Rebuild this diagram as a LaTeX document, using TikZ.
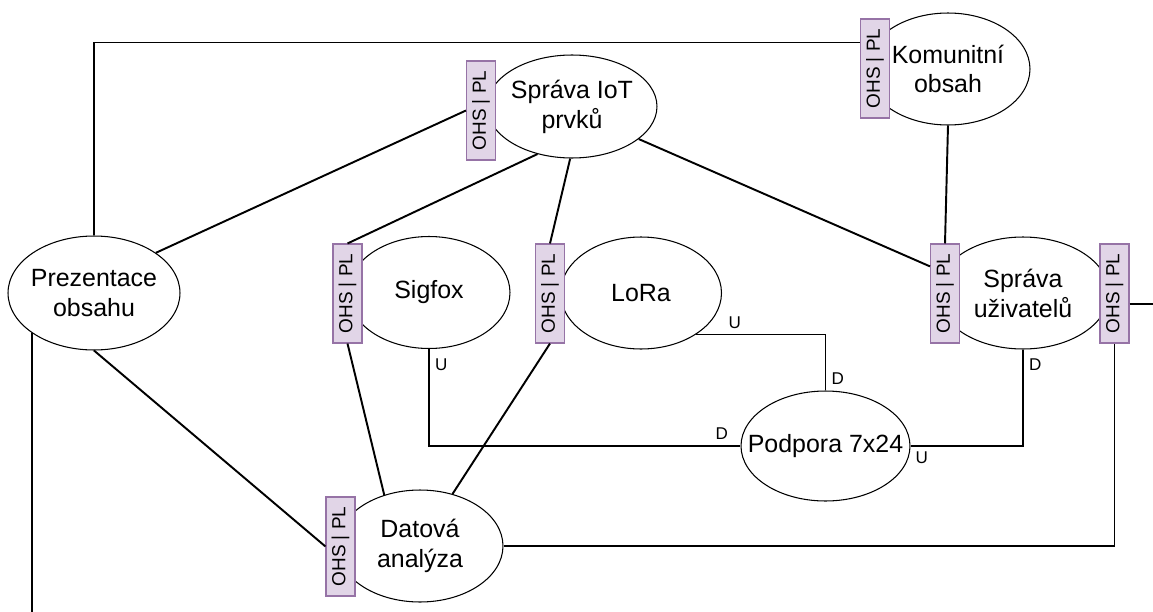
\documentclass[tikz,border=0pt]{standalone}
\usepackage{fontspec}
\setmainfont{Liberation Sans}
\usepackage{graphicx}
\usetikzlibrary{shapes.geometric}
\definecolor{ohsfill}{HTML}{E1D5E7}
\definecolor{ohsline}{HTML}{9673A6}
\def\ohs{\rotatebox{90}{OHS | PL}}

\begin{document}
\begin{tikzpicture}[x=0.02cm,y=-0.02cm,
    ctx/.style 2 args={ellipse,draw,line width=0.6pt,fill=white,inner xsep=-0.5cm,inner ysep=0pt,
        align=center,font=\fontsize{14.2}{17}\selectfont,minimum width=#1,minimum height=#2},
    ohsbox/.style={rectangle,draw=ohsline,fill=ohsfill,line width=0.6pt,inner sep=0pt,
        minimum width=0.58cm,minimum height=1.98cm,font=\fontsize{10.8}{13}\selectfont},
    rel/.style={line width=1.1pt},
    ud/.style={font=\fontsize{9.7}{11}\selectfont,inner sep=3pt}]
\useasboundingbox (0,0) rectangle (1153,612);

% contexts
\node[ctx={3.44cm}{2.28cm}] (prez) at (94,293) {Prezentace\\obsahu};
\node[ctx={3.40cm}{2.06cm}] (iot) at (572,106.5) {Správa IoT\\prvků};
\node[ctx={3.28cm}{2.24cm}] (kom) at (948,69) {Komunitní\\obsah};
\node[ctx={3.24cm}{2.24cm}] (sig) at (429,292.5) {Sigfox};
\node[ctx={3.22cm}{2.24cm}] (lora) at (641,293) {LoRa};
\node[ctx={3.44cm}{2.24cm}] (uzi) at (1023,293) {Správa\\uživatelů};
\node[ctx={3.38cm}{2.20cm}] (pod) at (825.5,446) {Podpora 7x24};
\node[ctx={3.32cm}{2.24cm}] (dat) at (420,546) {Datová\\analýza};

% open host services
\node[ohsbox] (komohs) at (875,68.5) {\ohs};
\node[ohsbox] (iotohs) at (481,110.5) {\ohs};
\node[ohsbox] (sigohs) at (347.5,293.5) {\ohs};
\node[ohsbox] (loraohs) at (550,293.5) {\ohs};
\node[ohsbox] (uziohs) at (945,293.5) {\ohs};
\node[ohsbox] (uziohsr) at (1114.5,293.5) {\ohs};
\node[ohsbox] (datohs) at (340.5,546.5) {\ohs};

\coordinate (bottom) at (33,612);
\coordinate (rightend) at (1153,303);

\draw[rel] (prez.33) -- (iotohs.west);
\draw[rel] (iot.234) -- (sigohs.north);
\draw[rel] (iot.268) -- (loraohs.north);
\draw[rel] (iot.334) -- (uziohs.119);
\draw[rel] (kom.south) -- (uziohs.north);
\draw[rel] (prez.north) |- (komohs.120);
\draw[rel] (prez.south) -- (datohs.west);
\draw[rel] (prez.213) -- (prez.213 |- bottom);
\draw[rel] (sigohs.south) -- (dat.125);
\draw[rel] (loraohs.south) -- (dat.58);
\draw[rel] (dat.east) -| (uziohsr.south);
\draw[rel] (uziohsr.-34) -- (uziohsr.-34 -| rightend);

% upstream / downstream
\draw[rel] (lora.-37) -| node[ud,pos=0.15,above] {U} node[ud,pos=0.89,right] {D} (pod.north);
\draw[rel] (sig.south) |- node[ud,pos=0.08,right] {U} node[ud,pos=0.97,above] {D} (pod.west);
\draw[rel] (uzi.south) |- node[ud,pos=0.08,right] {D} node[ud,pos=0.95,below] {U} (pod.east);
\end{tikzpicture}
\end{document}
